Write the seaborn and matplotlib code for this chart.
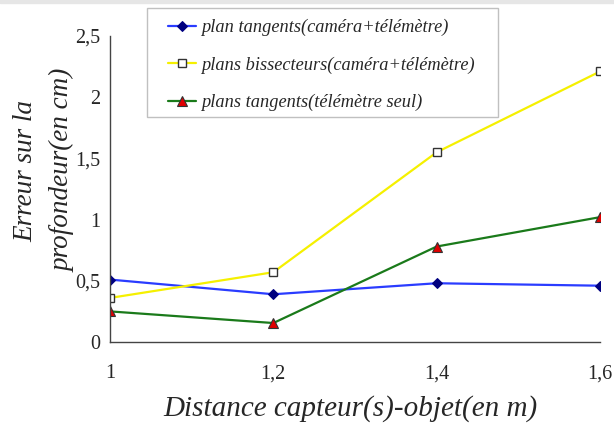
import matplotlib
matplotlib.use("Agg")
import matplotlib.pyplot as plt
import seaborn as sns
import pandas as pd

# Distances capteur-objet (m) et erreurs mesurées (cm)
distances = [1.0, 1.2, 1.4, 1.6]
distance_labels = ["1", "1,2", "1,4", "1,6"]
plan_tangents_cam = [0.51, 0.39, 0.48, 0.46]
plans_bissecteurs_cam = [0.36, 0.57, 1.55, 2.21]
plans_tangents_tel = [0.25, 0.155, 0.78, 1.02]
y_ticks = [0, 0.5, 1, 1.5, 2, 2.5]
y_labels = ["0", "0,5", "1", "1,5", "2", "2,5"]

series = [
    ("plan tangents(caméra+télémètre)", plan_tangents_cam,
     dict(color="#2a3cff", marker="D", markersize=5, markerfacecolor="#000080",
          markeredgecolor="#000080")),
    ("plans bissecteurs(caméra+télémètre)", plans_bissecteurs_cam,
     dict(color="#f5f000", marker="s", markersize=6, markerfacecolor="white",
          markeredgecolor="#333333", markeredgewidth=1.0)),
    ("plans tangents(télémètre seul)", plans_tangents_tel,
     dict(color="#1a7a1a", marker="^", markersize=7, markerfacecolor="#e00000",
          markeredgecolor="#333333", markeredgewidth=0.8)),
]

sns.set_style("white")
plt.rcParams["font.family"] = ["Liberation Serif", "DejaVu Serif"]

fig = plt.figure(figsize=(6.14, 4.25), dpi=100)
ax = fig.add_axes([110 / 614, 1 - 342 / 425, 490 / 614, 306 / 425])

for name, values, style in series:
    df = pd.DataFrame({"distance": distances, "erreur": values})
    sns.lineplot(data=df, x="distance", y="erreur", ax=ax, label=name,
                 linewidth=1.6, **style)

ax.set_xlim(distances[0], distances[-1])
ax.set_ylim(0, 2.5)
ax.set_xticks(distances)
ax.set_xticklabels(distance_labels)
ax.set_yticks(y_ticks)
ax.set_yticklabels(y_labels)
ax.tick_params(axis="both", direction="inout", length=8, width=1.0,
               color="#444444", labelsize=14.5, pad=3)
ax.tick_params(axis="x", pad=12)
for side in ("top", "right"):
    ax.spines[side].set_visible(False)
for side in ("left", "bottom"):
    ax.spines[side].set_color("#444444")
    ax.spines[side].set_linewidth(1.0)

ax.set_xlabel("Distance capteur(s)-objet(en m)", fontsize=21, style="italic")
ax.xaxis.set_label_coords(0.49, -0.175)
ax.set_ylabel("Erreur sur la\nprofondeur(en cm)", fontsize=19.5, style="italic",
              linespacing=1.65)
ax.yaxis.set_label_coords(-0.07, 0.56)

leg = ax.legend(loc="upper left", bbox_to_anchor=(168 / 614, 1 - 19 / 425),
                bbox_transform=fig.transFigure, frameon=False,
                prop=dict(family="Liberation Serif", style="italic", size=13.2),
                handlelength=1.5, handletextpad=0.3, labelspacing=1.1,
                borderpad=0, borderaxespad=0)

# cadre de la légende
fig.patches.append(plt.Rectangle((147 / 614, 1 - 117 / 425), 351 / 614,
                                 109 / 425, transform=fig.transFigure,
                                 facecolor="none", edgecolor="#c0c0c0",
                                 linewidth=1.0, zorder=0))

# fine bande grise en haut de la figure
fig.patches.append(plt.Rectangle((0, 1 - 3 / 425), 1, 3 / 425,
                                 transform=fig.transFigure,
                                 color="#e6e6e6", zorder=0))

fig.savefig("out.png", dpi=100)
